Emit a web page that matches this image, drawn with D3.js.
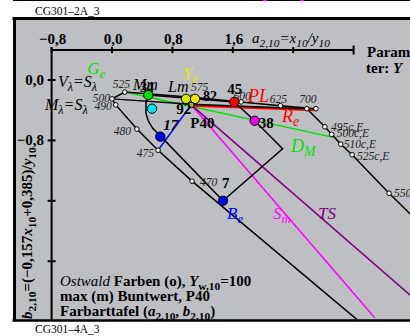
<!DOCTYPE html>
<html>
<head>
<meta charset="utf-8">
<script src="https://cdn.jsdelivr.net/npm/d3@7"></script>
<style>
  body { margin: 0; background: #fff; }
  svg { display: block; }
  text { font-family: "Liberation Serif", "Times New Roman", serif; }
</style>
</head>
<body>
<svg id="chart" width="410" height="336"></svg>
<script>
// ---- axis ticks ----
const xTicks = [-0.8, 0.0, 0.8, 1.6, 2.4, 3.2];
const xTickLabels = ["−0,8", "0,0", "0,8", "1,6"];
const yTicks = [0.0, -0.8, -1.6, -2.4];
const yTickLabels = ["0,0", "−0,8"];

// ---- spectral locus (a = x/y, b = (-0.157x+0.385)/y) ----
// null name = vertex only, "" = marker without text
const locusNames = [null, "470", "475", "480", "490", "500", "525", "575", "600", "625", "700"];
const locusA = [3.42, 1.06, 0.61, 0.33, 0.05, 0.00, 0.17, 1.06, 1.71, 2.23, 2.70];
const locusB = [-3.32, -1.34, -0.93, -0.65, -0.33, -0.25, -0.16, -0.23, -0.29, -0.34, -0.38];

// ---- complementary wavelengths, c,E ----
const complNames = [null, null, "", "495c,E", "500c,E", "510c,E", "525c,E", "550c,E", null];
const complA = [0.00, 1.05, 2.58, 2.82, 2.91, 3.03, 3.18, 3.67, 4.21];
const complB = [-0.25, -0.32, -0.38, -0.62, -0.72, -0.85, -0.99, -1.50, -2.03];

// ---- Ostwald colours of maximum chroma (closed path) ----
const loopA = [0.48, 0.45, 0.45, 0.48, 0.54, 0.64, 1.47, 2.26, 1.89, 1.62];
const loopB = [-0.20, -0.30, -0.44, -0.54, -0.64, -0.74, -1.60, -0.91, -0.54, -0.29];

// ---- coloured points ----
const pointNames = ["Ge", "Mm", "17", "7", "45", "38", "Lm", "Ye", "P40"];
const pointA = [0.48, 0.53, 0.64, 1.47, 1.62, 1.89, 0.98, 1.10, 1.05];
const pointB = [-0.20, -0.38, -0.75, -1.60, -0.29, -0.54, -0.25, -0.25, -0.33];

// ---- lines through P40 ----
const rayNames = ["DM", "PL", "Be", "Sm", "TS"];
const rayStartA = [0.17, 1.05, 0.61, 1.05, 1.05];
const rayStartB = [-0.16, -0.34, -0.93, -0.33, -0.33];
const rayEndA = [2.98, 2.70, 1.05, 3.48, 3.95];
const rayEndB = [-0.77, -0.40, -0.33, -3.15, -2.85];

// ================= drawing =================
const svg = d3.select("#chart");
const x = d3.scaleLinear().domain([0, 0.8]).range([112, 172.4]);
const y = d3.scaleLinear().domain([0, -0.8]).range([80, 140.4]);

function rich(sel, px, py, parts, o = {}) {
  const size = o.size || 14;
  const t = sel.append("text")
    .attr("x", px).attr("y", py)
    .attr("font-size", size)
    .attr("fill", o.fill || "#000")
    .attr("font-weight", o.bold ? "bold" : "normal")
    .attr("font-style", o.italic ? "italic" : "normal")
    .attr("text-anchor", o.anchor || "start");
  if (o.transform) t.attr("transform", o.transform);
  let shift = 0;
  parts.forEach(p => {
    const seg = typeof p === "string" ? { t: p } : p;
    const want = seg.sub ? size * 0.24 : 0;
    const s = t.append("tspan").text(seg.t).attr("dy", want - shift);
    shift = want;
    if (seg.sub) s.attr("font-size", size * 0.76);
    if (seg.i !== undefined) s.attr("font-style", seg.i ? "italic" : "normal");
    if (seg.b !== undefined) s.attr("font-weight", seg.b ? "bold" : "normal");
  });
  return t;
}

// page frame
svg.append("line").attr("x1", 13).attr("x2", 410).attr("y1", 0.5).attr("y2", 0.5)
  .attr("stroke", "#000").attr("stroke-width", 1.2);
svg.append("line").attr("x1", 263).attr("x2", 267).attr("y1", 0.5).attr("y2", 0.5)
  .attr("stroke", "#f0f").attr("stroke-width", 1.5);
svg.append("line").attr("x1", 300).attr("x2", 304).attr("y1", 0.5).attr("y2", 0.5)
  .attr("stroke", "#f0f").attr("stroke-width", 1.5);
rich(svg, 35, 15, ["CG301–2A_3"], { size: 11.5 });
rich(svg, 35, 333, ["CG301–4A_3"], { size: 11.5 });

// plot background + border
svg.append("rect").attr("x", 14).attr("y", 18).attr("width", 396).attr("height", 303)
  .attr("fill", "#bebfc3");
svg.append("line").attr("x1", 12.5).attr("x2", 410).attr("y1", 18.5).attr("y2", 18.5)
  .attr("stroke", "#000").attr("stroke-width", 3);
svg.append("line").attr("x1", 14.5).attr("x2", 14.5).attr("y1", 17).attr("y2", 321.5)
  .attr("stroke", "#000").attr("stroke-width", 3);
svg.append("line").attr("x1", 12.5).attr("x2", 410).attr("y1", 320.5).attr("y2", 320.5)
  .attr("stroke", "#000").attr("stroke-width", 2.5);

svg.append("defs").append("clipPath").attr("id", "plotClip")
  .append("rect").attr("x", 16).attr("y", 20).attr("width", 394).attr("height", 299.3);

// axes
const axY = 50, axX = x(-0.8);
const axes = svg.append("g").attr("stroke", "#000").attr("stroke-width", 2);
axes.append("line").attr("x1", x(-0.8)).attr("x2", x(3.2)).attr("y1", axY).attr("y2", axY);
xTicks.forEach((v, i) => {
  const h = i === xTicks.length - 1 ? 4.5 : 3;
  axes.append("line").attr("x1", x(v)).attr("x2", x(v)).attr("y1", axY - h).attr("y2", axY + h);
});
axes.append("line").attr("x1", axX).attr("x2", axX).attr("y1", axY - 3).attr("y2", 320);
yTicks.forEach(v => {
  axes.append("line").attr("x1", axX - 4).attr("x2", axX + 4).attr("y1", y(v)).attr("y2", y(v));
});
xTickLabels.forEach((s, i) => {
  rich(svg, x(xTicks[i]) + 1, 44, [s], { size: 15, bold: true, anchor: "middle" });
});
yTickLabels.forEach((s, i) => {
  rich(svg, 44, y(yTicks[i]) + 5, [s], { size: 15, bold: true, anchor: "end" });
});
rich(svg, 252, 43, [{ t: "a", i: true }, { t: "2,10", sub: true }, "=", { t: "x", i: true },
  { t: "10", sub: true }, "/", { t: "y", i: true }, { t: "10", sub: true }], { size: 15, italic: true });
rich(svg, 32, 319, [{ t: "b", i: true }, { t: "2,10", sub: true }, "=(−0,157", { t: "x", i: true },
  { t: "10", sub: true }, "+0,385)/", { t: "y", i: true }, { t: "10", sub: true }],
  { size: 15, bold: true, transform: "rotate(-90 32 319)" });
rich(svg, 367, 57, ["Parame-"], { size: 15, bold: true });
rich(svg, 366, 73, ["ter: ", { t: "Y", i: true }], { size: 15, bold: true });

// chart body
const plot = svg.append("g").attr("clip-path", "url(#plotClip)");
const line = d3.line().x(d => x(d[0])).y(d => y(d[1]));
const zip = (A, B) => A.map((a, i) => [a, B[i]]);

// coloured lines through P40
const rayColors = ["#00e000", "#ff0000", "#0000ff", "#ff00ff", "#800080"];
const rayWidths = [1.5, 2.2, 1.5, 1.6, 1.6];
rayNames.forEach((n, i) => {
  plot.append("path")
    .attr("d", line([[rayStartA[i], rayStartB[i]], [rayEndA[i], rayEndB[i]]]))
    .attr("fill", "none").attr("stroke", rayColors[i]).attr("stroke-width", rayWidths[i]);
});

// black curves
const locus = zip(locusA, locusB);
const compl = zip(complA, complB);
const loop = zip(loopA, loopB);
[locus, compl].forEach(pts => {
  plot.append("path").attr("d", line(pts)).attr("fill", "none")
    .attr("stroke", "#000").attr("stroke-width", 1.5);
});
plot.append("path").attr("d", line(loop) + "Z").attr("fill", "none")
  .attr("stroke", "#000").attr("stroke-width", 1.5);

// wavelength markers and labels
const wlStyle = { size: 11.5, italic: true, fill: "#222" };
const wlLayout = {
  "470": [8, 5, "start"], "475": [-4, 7, "end"], "480": [-6, 6, "end"],
  "490": [-4, 5, "end"], "500": [-2, 3, "end"], "525": [-12, -4, "start"],
  "575": [-1, -6, "start"], "600": [1, -2, "middle"], "625": [-2, -3, "middle"],
  "700": [-8, -6, "middle"],
  "495c,E": [6, 4, "start"], "500c,E": [5, 3, "start"], "510c,E": [3, 4, "start"],
  "525c,E": [5, 5, "start"], "550c,E": [5, 4, "start"]
};
function markers(names, pts) {
  names.forEach((n, i) => {
    if (n === null || n === "") return;
    const px = x(pts[i][0]), py = y(pts[i][1]);
    const L = wlLayout[n];
    rich(plot, px + L[0], py + L[1], [n], Object.assign({ anchor: L[2] }, wlStyle));
  });
  names.forEach((n, i) => {
    if (n === null) return;
    plot.append("circle").attr("cx", x(pts[i][0])).attr("cy", y(pts[i][1])).attr("r", 2.3)
      .attr("fill", "#fff").attr("stroke", "#000").attr("stroke-width", 1);
  });
}
markers(locusNames, locus);
markers(complNames, compl);

// coloured points
const pointColors = ["#00e000", "#00e8f0", "#0000f0", "#0000f0", "#ff0000", "#f000f0", "#d4ea00", "#f2e400", "#b8b800"];
const pointRadius = [4.7, 4.7, 4.7, 4.7, 4.7, 4.7, 4.7, 4.7, 2.8];
pointNames.forEach((n, i) => {
  plot.append("circle").attr("cx", x(pointA[i])).attr("cy", y(pointB[i])).attr("r", pointRadius[i])
    .attr("fill", pointColors[i]).attr("stroke", "#000").attr("stroke-width", 1);
});

// point and line labels
const P = n => { const i = pointNames.indexOf(n); return [x(pointA[i]), y(pointB[i])]; };
const big = 17;
let p;
p = P("Ge"); rich(plot, p[0] - 61, p[1] - 21, ["G", { t: "e", sub: true }], { size: big, italic: true, fill: "#00e000" });
p = P("Ye"); rich(plot, p[0] - 12, p[1] - 20, ["Y", { t: "e", sub: true }], { size: big, italic: true, fill: "#e8e800" });
p = P("Ye"); rich(plot, p[0] + 8, p[1] + 2, ["82"], { size: 14, bold: true });
p = P("Mm"); rich(plot, p[0] - 19, p[1] - 19, ["Mm"], { size: 16, italic: true });
p = P("Mm"); rich(plot, p[0] - 12, p[1] - 17, ["34"], { size: 14, bold: true });
p = P("Lm"); rich(plot, p[0] - 18, p[1] - 7, ["Lm"], { size: 16, italic: true });
p = P("17"); rich(plot, p[0] + 3, p[1] - 7, ["17"], { size: 15, bold: true, italic: true });
p = P("7"); rich(plot, p[0] - 1, p[1] - 13, ["7"], { size: 15, bold: true });
p = P("45"); rich(plot, p[0] - 7, p[1] - 8, ["45"], { size: 15, bold: true });
p = P("38"); rich(plot, p[0] + 4, p[1] + 7, ["38"], { size: 15, bold: true });
p = P("P40"); rich(plot, p[0] - 1, p[1] + 23, ["P40"], { size: 15, bold: true });
p = P("P40"); rich(plot, p[0] - 15, p[1] + 9, ["92"], { size: 15, bold: true });

rich(plot, 248, 102, ["PL"], { size: 18, italic: true, fill: "#ff0000" });
rich(plot, 282, 122, ["R", { t: "e", sub: true }], { size: 18, italic: true, fill: "#ff0000" });
rich(plot, 291, 152, ["D", { t: "M", sub: true }], { size: 18, italic: true, fill: "#00e000" });
rich(plot, 227, 219, ["B", { t: "e", sub: true }], { size: 17, italic: true, fill: "#0000ff" });
rich(plot, 273, 219, ["S", { t: "m", sub: true }], { size: 17, italic: true, fill: "#ff00ff" });
rich(plot, 318, 219, ["TS"], { size: 17, italic: true, fill: "#800080" });

rich(plot, 58, 87, ["V", { t: "λ", sub: true }, "=S", { t: "λ", sub: true }], { size: 16, italic: true });
rich(plot, 45, 110, ["M", { t: "λ", sub: true }, "=S", { t: "λ", sub: true }], { size: 16, italic: true });

// legend text
rich(svg, 60, 286, [{ t: "Ostwald", i: true, b: false }, " Farben (o), ", { t: "Y", i: true },
  { t: "w,10", sub: true }, "=100"], { size: 15, bold: true });
rich(svg, 60, 301, ["max (m) Buntwert, P40"], { size: 15, bold: true });
rich(svg, 60, 316, ["Farbarttafel (", { t: "a", i: true }, { t: "2,10", sub: true }, ", ",
  { t: "b", i: true }, { t: "2,10", sub: true }, ")"], { size: 15, bold: true });
</script>
</body>
</html>
